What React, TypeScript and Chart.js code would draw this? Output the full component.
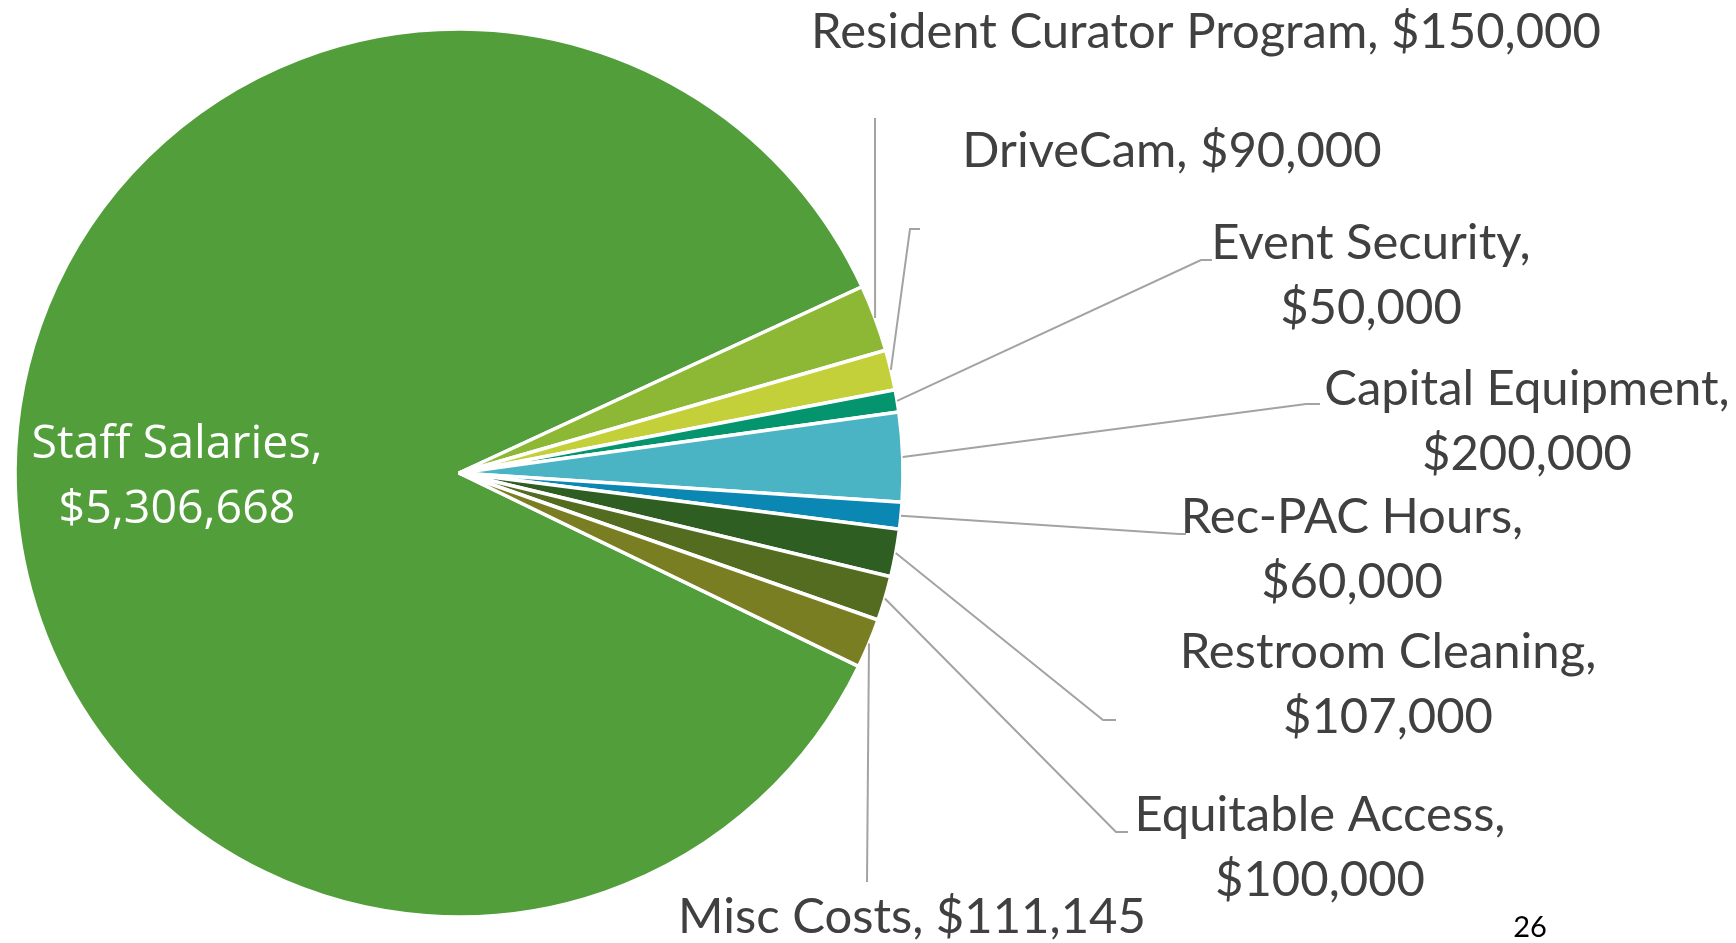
import { useEffect, useRef } from "react";
import { Chart, ArcElement, PieController } from "chart.js";

Chart.register(ArcElement, PieController);

// ---------- data ----------
const categories = [
  "Staff Salaries",
  "Resident Curator Program",
  "DriveCam",
  "Event Security",
  "Capital Equipment",
  "Rec-PAC Hours",
  "Restroom Cleaning",
  "Equitable Access",
  "Misc Costs",
];
const amounts = [5306668, 150000, 90000, 50000, 200000, 60000, 107000, 100000, 111145];
const sliceColors = [
  "#519E3A",
  "#8CB835",
  "#C3D03A",
  "#04956F",
  "#4AB3C4",
  "#0A87B2",
  "#2F5E23",
  "#536C20",
  "#7A7E22",
];
const slideNumber = "26";

// ---------- layout (label placement, not data) ----------
type LabelLayout = {
  twoLines: boolean;
  cx: number;
  baseline: number;
  leader: [number, number][];
  inside?: boolean;
};
const labelLayouts: LabelLayout[] = [
  { twoLines: true, cx: 177, baseline: 458, leader: [], inside: true },
  { twoLines: false, cx: 1206, baseline: 48, leader: [[875, 118]] },
  { twoLines: false, cx: 1172, baseline: 167, leader: [[910, 229], [920, 229]] },
  { twoLines: true, cx: 1371, baseline: 259, leader: [[1201, 260], [1212, 260]] },
  { twoLines: true, cx: 1527, baseline: 405, leader: [[1306, 404], [1320, 404]] },
  { twoLines: true, cx: 1352, baseline: 533, leader: [[1179, 534], [1186, 534]] },
  { twoLines: true, cx: 1388, baseline: 668, leader: [[1103, 720], [1116, 720]] },
  { twoLines: true, cx: 1320, baseline: 831, leader: [[1116, 832], [1128, 832]] },
  { twoLines: false, cx: 912, baseline: 933, leader: [[867, 882]] },
];
const LINE_GAP = 65;
const OUT_FONT = "49px Lato";
const OUT_SCALE_X = 1.0;
const IN_FONT = "46.5px 'Open Sans'";

const fmt = (v: number) => "$" + v.toLocaleString("en-US");

const labelPlugin = {
  id: "pieLabels",
  afterDatasetsDraw(chart: any) {
    const ctx: CanvasRenderingContext2D = chart.ctx;
    const meta = chart.getDatasetMeta(0);
    ctx.save();
    meta.data.forEach((el: any, i: number) => {
      const lay = labelLayouts[i];
      if (!lay) return;
      const { x, y, startAngle, endAngle, outerRadius } = el.getProps(
        ["x", "y", "startAngle", "endAngle", "outerRadius"],
        true
      );
      const mid = (startAngle + endAngle) / 2;
      const text1 = categories[i] + ",";
      const val = fmt(amounts[i]);
      const lines = lay.twoLines ? [text1, val] : [text1 + " " + val];

      if (lay.leader.length) {
        const px = x + Math.cos(mid) * outerRadius;
        const py = y + Math.sin(mid) * outerRadius;
        ctx.beginPath();
        ctx.moveTo(px, py);
        lay.leader.forEach(([lx, ly]) => ctx.lineTo(lx, ly));
        ctx.strokeStyle = "#A3A3A3";
        ctx.lineWidth = 2;
        ctx.stroke();
      }

      ctx.textAlign = "center";
      ctx.textBaseline = "alphabetic";
      if (lay.inside) {
        ctx.font = IN_FONT;
        ctx.fillStyle = "#FFFFFF";
        lines.forEach((t, k) => ctx.fillText(t, lay.cx, lay.baseline + k * LINE_GAP));
      } else {
        ctx.font = OUT_FONT;
        ctx.fillStyle = "#404040";
        lines.forEach((t, k) => {
          ctx.save();
          ctx.translate(lay.cx, lay.baseline + k * LINE_GAP);
          ctx.scale(OUT_SCALE_X, 1);
          ctx.fillText(t, 0, 0);
          ctx.restore();
        });
      }
    });
    // slide number
    ctx.font = "29px Lato";
    ctx.fillStyle = "#000000";
    ctx.textAlign = "center";
    ctx.fillText(slideNumber, 1530, 937);
    ctx.restore();
  },
};

export default function App() {
  const ref = useRef<HTMLCanvasElement | null>(null);
  useEffect(() => {
    if (!ref.current) return;
    const total = amounts.reduce((a, b) => a + b, 0);
    const firstSmallStart = 65.2;
    const rotation = firstSmallStart - (amounts[0] / total) * 360;
    const chart = new Chart(ref.current, {
      type: "pie",
      data: {
        labels: categories,
        datasets: [
          {
            data: amounts,
            backgroundColor: sliceColors,
            borderColor: "#FFFFFF",
            borderWidth: 3.5,
          },
        ],
      },
      options: {
        animation: false,
        responsive: true,
        maintainAspectRatio: false,
        rotation,
        radius: 444,
        layout: { padding: { left: 2, right: 820, top: 3, bottom: 0 } },
        plugins: { legend: { display: false }, tooltip: { enabled: false } },
        events: [],
      },
      plugins: [labelPlugin],
    });
    return () => chart.destroy();
  }, []);
  return (
    <div
      style={{
        position: "fixed",
        left: 0,
        top: 0,
        width: 1736,
        height: 943,
        background: "#FFFFFF",
      }}
    >
      <canvas ref={ref} />
    </div>
  );
}
